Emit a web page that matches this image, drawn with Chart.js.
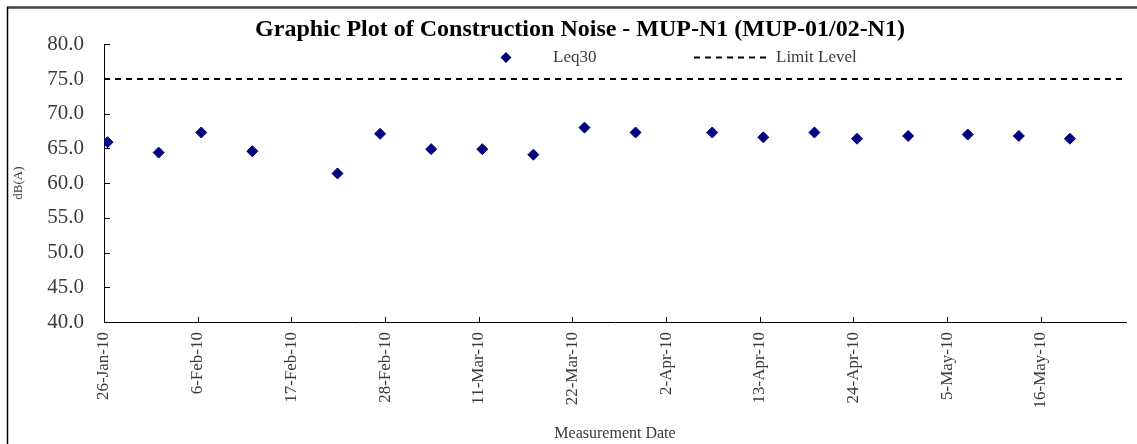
<!DOCTYPE html>
<html>
<head>
<meta charset="utf-8">
<script src="https://cdn.jsdelivr.net/npm/chart.js@4.4.1/dist/chart.umd.min.js"></script>
<style>
  html, body { margin: 0; padding: 0; background: #fff; }
  #noiseChart { display: block; }
</style>
</head>
<body>
<canvas id="noiseChart" width="1137" height="444"></canvas>
<script>
// measurement dates (UTC) and Leq30 readings, dB(A)
const measureDates = [
  '2010-01-26T10:00Z', '2010-02-01T10:00Z', '2010-02-06T10:00Z', '2010-02-12T10:00Z',
  '2010-02-22T10:00Z', '2010-02-27T10:00Z', '2010-03-05T10:00Z', '2010-03-11T10:00Z',
  '2010-03-17T10:00Z', '2010-03-23T10:00Z', '2010-03-29T10:00Z', '2010-04-07T10:00Z',
  '2010-04-13T10:00Z', '2010-04-19T10:00Z', '2010-04-24T10:00Z', '2010-04-30T10:00Z',
  '2010-05-07T10:00Z', '2010-05-13T10:00Z', '2010-05-19T10:00Z'
];
const leq30Values = [
  65.9, 64.4, 67.3, 64.6,
  61.4, 67.1, 64.9, 64.9,
  64.1, 68.0, 67.3, 67.3,
  66.6, 67.3, 66.4, 66.8,
  67.0, 66.8, 66.4
];
const limitLevel = 75;
const axisStart = '2010-01-26T00:00Z';
const axisEnd = '2010-05-26T00:00Z';
const tickStepDays = 11;

const DAY = 86400000;
const MONTHS = ['Jan', 'Feb', 'Mar', 'Apr', 'May', 'Jun', 'Jul', 'Aug', 'Sep', 'Oct', 'Nov', 'Dec'];
const xMin = Date.parse(axisStart);
const xMax = Date.parse(axisEnd);

const xTickValues = [];
for (let t = xMin; t <= xMax; t += tickStepDays * DAY) xTickValues.push(t);

function fmtDate(t) {
  const d = new Date(t);
  return d.getUTCDate() + '-' + MONTHS[d.getUTCMonth()] + '-' + String(d.getUTCFullYear()).slice(2);
}

const serif = 'Liberation Serif, "Times New Roman", serif';
const textGrey = '#3a3a3a';

// frame, inward tick marks, legend and title placement
const excelLook = {
  id: 'excelLook',
  beforeDraw(chart) {
    const tb = chart.titleBlock;
    const w = tb.right - tb.left;
    tb.left = 580 - w / 2;
    tb.right = tb.left + w;
  },
  afterDraw(chart) {
    const { ctx, chartArea, scales } = chart;
    ctx.save();
    // outer frame
    ctx.strokeStyle = '#444';
    ctx.lineWidth = 2.5;
    ctx.beginPath();
    ctx.moveTo(7, 7.5);
    ctx.lineTo(1137, 7.5);
    ctx.stroke();
    ctx.strokeStyle = '#000';
    ctx.lineWidth = 1.5;
    ctx.beginPath();
    ctx.moveTo(7.5, 7);
    ctx.lineTo(7.5, 444);
    ctx.stroke();

    // tick marks pointing into the plot
    ctx.lineWidth = 1;
    ctx.beginPath();
    scales.y.ticks.forEach(t => {
      const y = Math.round(scales.y.getPixelForValue(t.value)) + 0.5;
      ctx.moveTo(chartArea.left, y);
      ctx.lineTo(chartArea.left + 6, y);
    });
    scales.x.ticks.forEach(t => {
      const x = Math.round(scales.x.getPixelForValue(t.value)) + 0.5;
      ctx.moveTo(x, chartArea.bottom);
      ctx.lineTo(x, chartArea.bottom - 5);
    });
    ctx.stroke();

    // legend
    const [leq, limit] = chart.data.datasets;
    const ly = 57.5;
    ctx.fillStyle = leq.backgroundColor;
    ctx.beginPath();
    ctx.moveTo(506, ly - 5.5);
    ctx.lineTo(511.5, ly);
    ctx.lineTo(506, ly + 5.5);
    ctx.lineTo(500.5, ly);
    ctx.closePath();
    ctx.fill();
    ctx.strokeStyle = limit.borderColor;
    ctx.lineWidth = limit.borderWidth;
    ctx.setLineDash(limit.borderDash);
    ctx.beginPath();
    ctx.moveTo(694, ly);
    ctx.lineTo(769, ly);
    ctx.stroke();
    ctx.setLineDash([]);
    ctx.font = '17px ' + serif;
    ctx.fillStyle = textGrey;
    ctx.textBaseline = 'middle';
    ctx.textAlign = 'left';
    ctx.fillText(leq.label, 553, ly);
    ctx.fillText(limit.label, 776, ly);
    ctx.restore();
  }
};

new Chart(document.getElementById('noiseChart').getContext('2d'), {
  type: 'scatter',
  data: {
    datasets: [{
      label: 'Leq30',
      data: measureDates.map((d, i) => ({ x: Date.parse(d), y: leq30Values[i] })),
      pointStyle: 'rectRot',
      pointRadius: 5.5,
      backgroundColor: '#000080',
      borderColor: '#000080',
      borderWidth: 1
    }, {
      label: 'Limit Level',
      data: [{ x: xMin, y: limitLevel }, { x: xMax, y: limitLevel }],
      showLine: true,
      pointRadius: 0,
      borderColor: '#000',
      borderWidth: 2,
      borderDash: [6, 5]
    }]
  },
  options: {
    responsive: false,
    animation: false,
    layout: { padding: { left: 6, right: 11, top: 0, bottom: 0 } },
    plugins: {
      legend: { display: false },
      tooltip: { enabled: false },
      title: {
        display: true,
        text: 'Graphic Plot of Construction Noise - MUP-N1 (MUP-01/02-N1)',
        color: '#000',
        font: { family: serif, size: 24, weight: 'bold', lineHeight: 1.2 },
        padding: { top: 15.5, bottom: 0 }
      }
    },
    scales: {
      x: {
        type: 'linear',
        min: xMin,
        max: xMax,
        afterBuildTicks: scale => { scale.ticks = xTickValues.map(v => ({ value: v })); },
        afterFit: scale => { scale.height = 122; },
        grid: { display: false, drawTicks: false },
        border: { display: true, color: '#000', width: 1 },
        ticks: {
          autoSkip: false,
          minRotation: 90,
          maxRotation: 90,
          padding: 10,
          color: textGrey,
          font: { family: serif, size: 17 },
          callback: v => fmtDate(v)
        },
        title: {
          display: true,
          text: 'Measurement Date',
          color: textGrey,
          font: { family: serif, size: 16, lineHeight: 1.2 },
          padding: { top: 0, bottom: 1 }
        }
      },
      y: {
        min: 40,
        max: 80,
        afterFit: scale => { scale.width = 98; },
        grid: { display: false, drawTicks: false },
        border: { display: true, color: '#000', width: 1 },
        ticks: {
          stepSize: 5,
          padding: 20,
          color: textGrey,
          font: { family: serif, size: 21 },
          callback: v => v.toFixed(1)
        },
        title: {
          display: true,
          text: 'dB(A)',
          color: textGrey,
          font: { family: serif, size: 13, lineHeight: 1.2 },
          padding: { top: 5, bottom: 0 }
        }
      }
    }
  },
  plugins: [excelLook]
});
</script>
</body>
</html>
